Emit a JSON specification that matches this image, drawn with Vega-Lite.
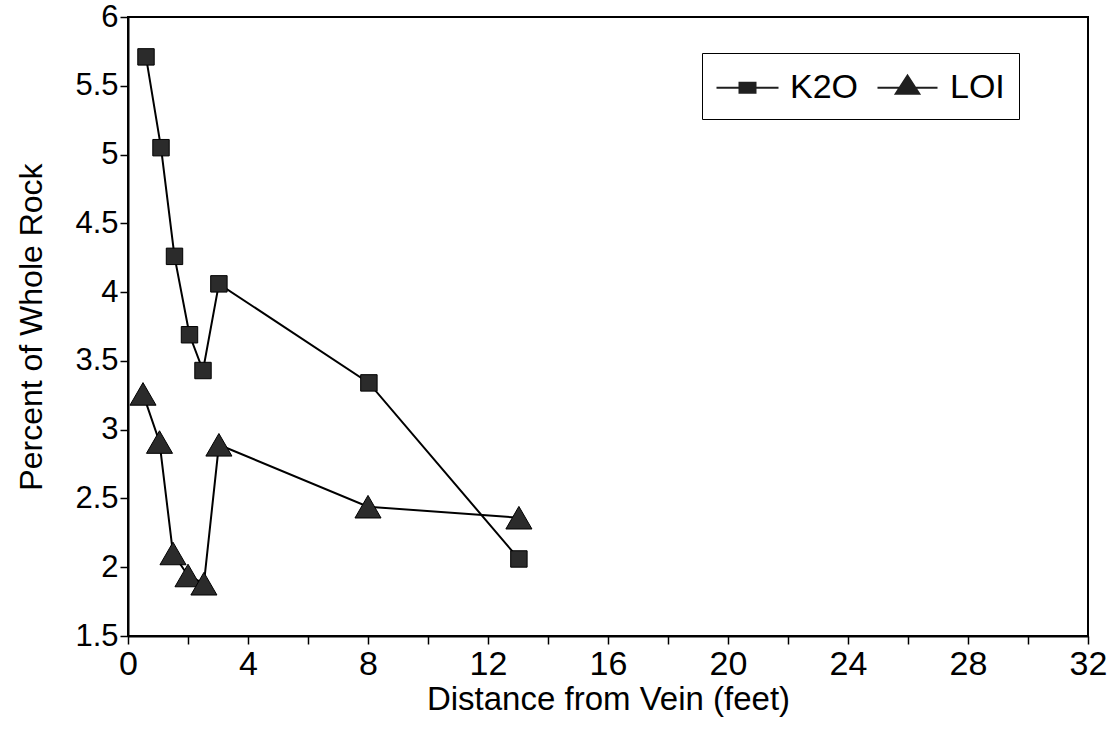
{
  "$schema": "https://vega.github.io/schema/vega-lite/v6.json",
  "width": 960,
  "height": 619,
  "autosize": "none",
  "padding": {"left": 128, "top": 17, "right": 27, "bottom": 94},
  "background": "white",
  "config": {
    "view": {"stroke": "black", "strokeWidth": 2},
    "font": "Liberation Sans"
  },
  "data": {
    "values": [
      {"series": "K2O", "distance": 0.6, "value": 5.71},
      {"series": "K2O", "distance": 1.1, "value": 5.05},
      {"series": "K2O", "distance": 1.55, "value": 4.26},
      {"series": "K2O", "distance": 2.05, "value": 3.69},
      {"series": "K2O", "distance": 2.5, "value": 3.43},
      {"series": "K2O", "distance": 3.03, "value": 4.06},
      {"series": "K2O", "distance": 8.03, "value": 3.34},
      {"series": "K2O", "distance": 13.03, "value": 2.06},
      {"series": "LOI", "distance": 0.5, "value": 3.26},
      {"series": "LOI", "distance": 1.05, "value": 2.91},
      {"series": "LOI", "distance": 1.5, "value": 2.1},
      {"series": "LOI", "distance": 2.0, "value": 1.94},
      {"series": "LOI", "distance": 2.53, "value": 1.88},
      {"series": "LOI", "distance": 3.03, "value": 2.89},
      {"series": "LOI", "distance": 8.0, "value": 2.44},
      {"series": "LOI", "distance": 13.03, "value": 2.36}
    ]
  },
  "encoding": {
    "x": {
      "field": "distance",
      "type": "quantitative",
      "scale": {"domain": [0, 32], "nice": false, "zero": false},
      "axis": {
        "title": "Distance from Vein (feet)",
        "values": [0, 2, 4, 6, 8, 10, 12, 14, 16, 18, 20, 22, 24, 26, 28, 30, 32],
        "labelExpr": "datum.value % 4 == 0 ? '' + datum.value : ''",
        "grid": false,
        "domainColor": "black",
        "domainWidth": 2,
        "tickColor": "black",
        "tickWidth": 1.5,
        "tickSize": 8,
        "labelFontSize": 34,
        "labelColor": "black",
        "labelPadding": 3,
        "labelFlush": false,
        "labelOverlap": false,
        "titleFontSize": 33,
        "titleFontWeight": "normal",
        "titleColor": "black",
        "titlePadding": 2
      }
    },
    "y": {
      "field": "value",
      "type": "quantitative",
      "scale": {"domain": [1.5, 6], "nice": false, "zero": false},
      "axis": {
        "title": "Percent of Whole Rock",
        "values": [1.5, 2, 2.5, 3, 3.5, 4, 4.5, 5, 5.5, 6],
        "labelExpr": "'' + datum.value",
        "grid": false,
        "domainColor": "black",
        "domainWidth": 2,
        "tickColor": "black",
        "tickWidth": 1.5,
        "tickSize": 8,
        "labelFontSize": 31,
        "labelColor": "black",
        "labelPadding": 2,
        "labelFlush": false,
        "labelOverlap": false,
        "titleFontSize": 32,
        "titleFontWeight": "normal",
        "titleColor": "black",
        "titlePadding": 26
      }
    }
  },
  "layer": [
    {
      "mark": {"type": "line", "color": "black", "strokeWidth": 2},
      "encoding": {"detail": {"field": "series", "type": "nominal"}}
    },
    {
      "transform": [{"filter": "datum.series === 'K2O'"}],
      "mark": {"type": "point", "shape": "square", "size": 270, "filled": true, "fill": "#2b2b2b", "stroke": "black", "strokeWidth": 1, "opacity": 1}
    },
    {
      "transform": [{"filter": "datum.series === 'LOI'"}],
      "mark": {"type": "point", "shape": "triangle-up", "size": 680, "filled": true, "fill": "#2b2b2b", "stroke": "black", "strokeWidth": 1, "opacity": 1}
    },
    {
      "mark": {"type": "point", "filled": true, "fill": "#1f1f1f", "stroke": "black", "strokeWidth": 1, "opacity": 0},
      "encoding": {
        "shape": {
          "field": "series",
          "type": "nominal",
          "scale": {
            "domain": ["K2O", "LOI"],
            "range": [
              "M-1.55,-0.045H1.55V0.045H-1.55Z M-0.45,-0.3H0.45V0.3H-0.45Z",
              "M-1.5,-0.045H1.5V0.045H-1.5Z M0,-0.7L0.68,0.35H-0.68Z"
            ]
          },
          "legend": {
            "orient": "none",
            "legendX": 574,
            "legendY": 36,
            "direction": "horizontal",
            "title": null,
            "strokeColor": "black",
            "padding": 14,
            "labelFontSize": 34,
            "labelColor": "black",
            "labelOffset": 22,
            "columnPadding": 16,
            "labelExpr": "datum.value === 'LOI' ? 'LOI\u00a0\u00a0\u00a0\u00a0' : datum.label",
            "symbolSize": 1600,
            "symbolOffset": 11,
            "symbolStrokeColor": "black",
            "symbolFillColor": "#1f1f1f",
            "symbolStrokeWidth": 1,
            "symbolOpacity": 1,
            "encode": {
              "legend": {"update": {"strokeWidth": {"value": 1.5}}},
              "symbols": {
                "update": {
                  "opacity": {"value": 1},
                  "fillOpacity": {"value": 1},
                  "strokeOpacity": {"value": 1},
                  "fill": {"value": "#1f1f1f"},
                  "stroke": {"value": "black"},
                  "strokeWidth": {"value": 1}
                }
              }
            }
          }
        }
      }
    }
  ]
}
